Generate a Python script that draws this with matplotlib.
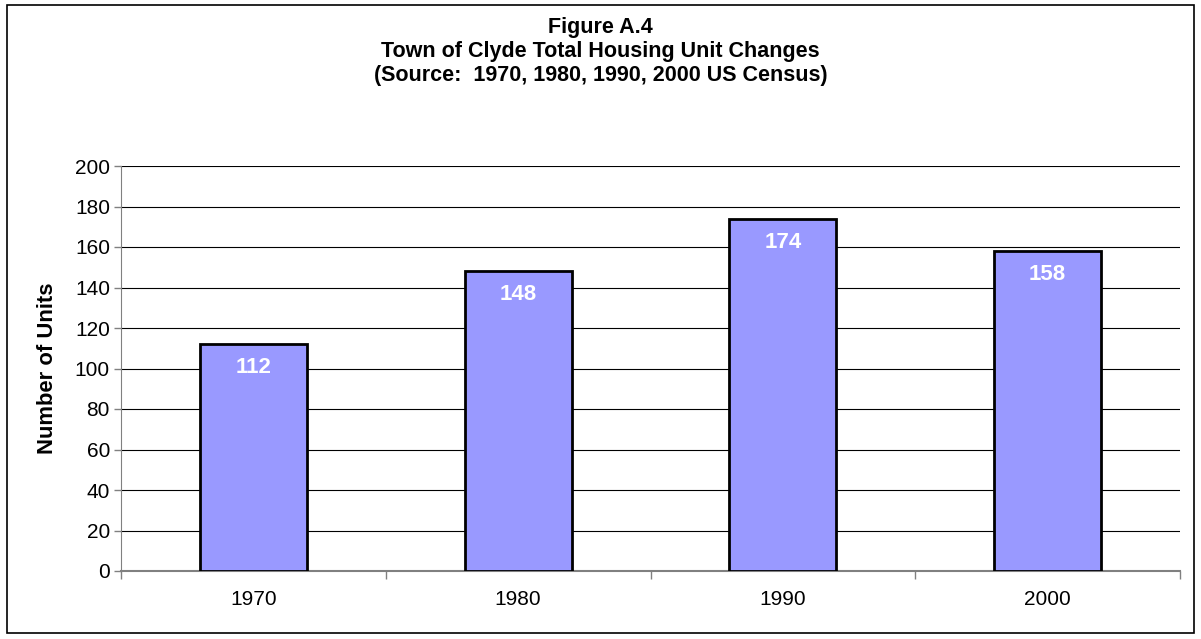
import matplotlib.pyplot as plt
from matplotlib.patches import Rectangle

years = ['1970', '1980', '1990', '2000']
units = [112, 148, 174, 158]
y_ticks = list(range(0, 201, 20))

plt.rcParams['font.family'] = ['Liberation Sans', 'DejaVu Sans']
fs = 15

fig = plt.figure(figsize=(12.01, 6.39), dpi=100)
ax = fig.add_axes([121 / 1201, 1 - 571 / 639, (1180 - 121) / 1201, (571 - 166) / 639])

# outer chart border
fig.patches.append(Rectangle((7 / 1201, 6 / 639), 1187 / 1201, 628 / 639,
                             transform=fig.transFigure, fill=False,
                             edgecolor='black', linewidth=1.2))

x = range(len(years))
bars = ax.bar(x, units, width=0.405, color='#9999ff', edgecolor='black',
              linewidth=2, zorder=3)

for b, v in zip(bars, units):
    ax.annotate(str(v), (b.get_x() + b.get_width() / 2, v),
                xytext=(0, -17), textcoords='offset points',
                ha='center', va='center', color='white',
                fontsize=16, fontweight='bold', zorder=4)

ax.set_xlim(-0.5, len(years) - 0.5)
ax.set_ylim(0, 200)
ax.set_yticks(y_ticks)
ax.tick_params(axis='y', labelsize=fs, length=5, width=1, color='#808080', pad=3)
ax.set_xticks([i for i in x])
ax.set_xticklabels(years, fontsize=fs)
ax.tick_params(axis='x', length=0, pad=14)
ax.set_xticks([i - 0.5 for i in range(len(years) + 1)], minor=True)
ax.tick_params(axis='x', which='minor', length=6, width=1, color='#808080', direction='out')

ax.grid(axis='y', color='black', linewidth=0.8, zorder=0)
for s in ['top', 'right']:
    ax.spines[s].set_visible(False)
ax.spines['left'].set_color('#808080')
ax.spines['bottom'].set_color('#808080')
ax.spines['bottom'].set_linewidth(1.5)

ax.set_ylabel('Number of Units', fontsize=15.8, fontweight='bold', labelpad=12)

fig.text(0.5, 1 - 27 / 639, 'Figure A.4', ha='center', va='center',
         fontsize=15.5, fontweight='bold')
fig.text(0.5, 1 - 51 / 639, 'Town of Clyde Total Housing Unit Changes',
         ha='center', va='center', fontsize=15.5, fontweight='bold')
fig.text(0.5, 1 - 75 / 639, '(Source:  1970, 1980, 1990, 2000 US Census)',
         ha='center', va='center', fontsize=15.5, fontweight='bold')

fig.savefig('out.png', dpi=100)
